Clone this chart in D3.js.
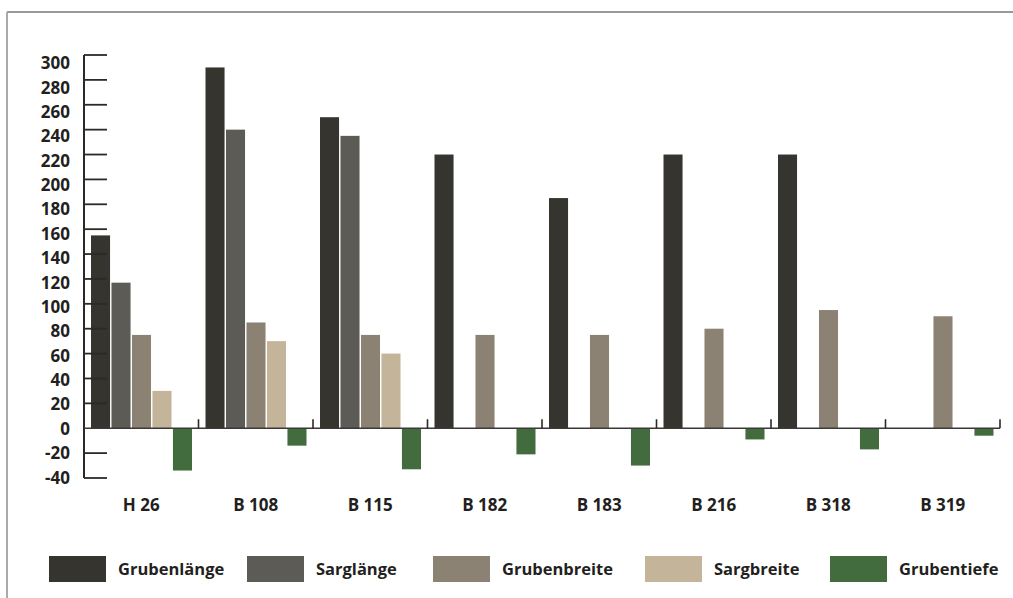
<!DOCTYPE html>
<html>
<head>
<meta charset="utf-8">
<script src="https://cdn.jsdelivr.net/npm/d3@7"></script>
<style>
  html, body { margin: 0; padding: 0; background: #fff; }
  svg { display: block; font-family: "Open Sans", "Noto Sans", sans-serif; }
</style>
</head>
<body>
<svg id="chart" width="1013" height="598"></svg>
<script>
// Grave measurements (cm) per burial
const burials = ["H 26", "B 108", "B 115", "B 182", "B 183", "B 216", "B 318", "B 319"];
const seriesNames = ["Grubenlänge", "Sarglänge", "Grubenbreite", "Sargbreite", "Grubentiefe"];
const seriesColors = ["#35342f", "#5c5b55", "#8c8273", "#c4b49a", "#426c3e"];

const grubenlaenge = [155, 290, 250, 220, 185, 220, 220, null];
const sarglaenge   = [117, 240, 235, null, null, null, null, null];
const grubenbreite = [75, 85, 75, 75, 75, 80, 95, 90];
const sargbreite   = [30, 70, 60, null, null, null, null, null];
const grubentiefe  = [-34, -14, -33, -21, -30, -9, -17, -6];

const yTicks = [300, 280, 260, 240, 220, 200, 180, 160, 140, 120, 100, 80, 60, 40, 20, 0, -20, -40];

const seriesValues = [grubenlaenge, sarglaenge, grubenbreite, sargbreite, grubentiefe];

const svg = d3.select("#chart");
const axisColor = "#2b2a27";
const textColor = "#231f20";

// frame (top and left rules)
svg.append("line").attr("x1", 7).attr("x2", 1013).attr("y1", 12).attr("y2", 12)
  .attr("stroke", "#777").attr("stroke-width", 1.5);
svg.append("line").attr("x1", 7).attr("x2", 7).attr("y1", 12).attr("y2", 598)
  .attr("stroke", "#aaa").attr("stroke-width", 2);

const x0 = 84, x1 = 1000;
const y = d3.scaleLinear().domain([-40, 300]).range([478, 55]);
const yLabel = d3.scaleLinear().domain([-40, 300]).range([477.5, 63]);

const xGroup = d3.scaleBand().domain(burials).range([x0, x1]).paddingInner(0).paddingOuter(0);
const xSeries = d3.scaleBand().domain(seriesNames).range([7, 108]).paddingInner(0.07).paddingOuter(0);

// bars
const rows = [];
burials.forEach((b, i) => {
  seriesNames.forEach((s, j) => {
    const v = seriesValues[j][i];
    if (v !== null && v !== undefined) rows.push({ burial: b, series: s, value: v, color: seriesColors[j] });
  });
});

svg.append("g").selectAll("rect").data(rows).join("rect")
  .attr("x", d => xGroup(d.burial) + xSeries(d.series))
  .attr("width", xSeries.bandwidth())
  .attr("y", d => d.value >= 0 ? y(d.value) : y(0))
  .attr("height", d => Math.abs(y(d.value) - y(0)))
  .attr("fill", d => d.color);

// y axis: vertical rule with ticks pointing into the plot
const yAxis = svg.append("g");
yAxis.append("line").attr("x1", x0).attr("x2", x0).attr("y1", y(300)).attr("y2", y(-40))
  .attr("stroke", axisColor).attr("stroke-width", 2);
yAxis.selectAll("line.tick").data(yTicks.filter(t => t !== 0)).join("line")
  .attr("class", "tick")
  .attr("x1", x0).attr("x2", x0 + 23)
  .attr("y1", d => y(d)).attr("y2", d => y(d))
  .attr("stroke", axisColor).attr("stroke-width", 1.8);
yAxis.selectAll("text").data(yTicks).join("text")
  .attr("x", 70).attr("y", d => yLabel(d))
  .attr("dy", "0.36em")
  .attr("text-anchor", "end")
  .attr("font-size", 17).attr("font-weight", 700).attr("fill", textColor)
  .text(d => d);

// zero line with small upward ticks between burials
const xAxis = svg.append("g");
xAxis.append("line").attr("x1", x0).attr("x2", x1).attr("y1", y(0)).attr("y2", y(0))
  .attr("stroke", "#3a3937").attr("stroke-width", 1.6);
const boundaries = burials.slice(1).map(b => xGroup(b)).concat([x1]);
xAxis.selectAll("line.sep").data(boundaries).join("line")
  .attr("class", "sep")
  .attr("x1", d => d).attr("x2", d => d)
  .attr("y1", y(0)).attr("y2", y(0) - 9)
  .attr("stroke", axisColor).attr("stroke-width", 1.6);
xAxis.selectAll("text").data(burials).join("text")
  .attr("x", d => xGroup(d) + xGroup.bandwidth() / 2)
  .attr("y", 511)
  .attr("text-anchor", "middle")
  .attr("font-size", 17).attr("font-weight", 700).attr("fill", textColor)
  .text(d => d);

// legend
const legendX = [49, 247, 433, 645, 830];
const legend = svg.append("g").selectAll("g").data(seriesNames).join("g")
  .attr("transform", (d, i) => `translate(${legendX[i]},556)`);
legend.append("rect").attr("width", 57).attr("height", 26)
  .attr("fill", (d, i) => seriesColors[i]);
legend.append("text").attr("x", 69).attr("y", 19)
  .attr("font-size", 16.5).attr("font-weight", 700).attr("fill", textColor)
  .text(d => d);
</script>
</body>
</html>
